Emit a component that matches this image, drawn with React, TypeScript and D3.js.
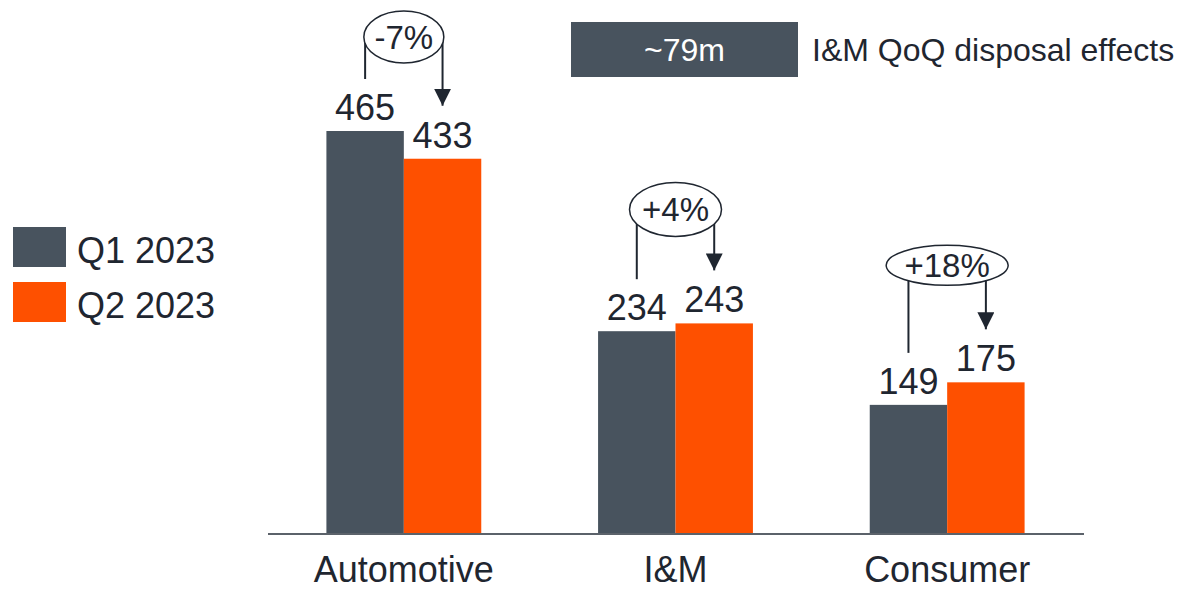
import React from "react";
import * as d3 from "d3";

const categories = ["Automotive", "I&M", "Consumer"];
const seriesNames = ["Q1 2023", "Q2 2023"];
const q1Values = [465, 234, 149];
const q2Values = [433, 243, 175];
const changeLabels = ["-7%", "+4%", "+18%"];
const noteValue = "~79m";
const noteText = "I&M QoQ disposal effects";

// annotation geometry (styling)
const ellipseLift = [94, 114, 117];
const ellipseRx = [40, 46, 61];
const ellipseRy = [26, 27, 20];

const W = 1178;
const H = 589;
const SLATE = "#48535e";
const ORANGE = "#fe5000";
const TEXT = "#1f2630";
const FONT = "'Liberation Sans', Arial, sans-serif";

export default function App() {
  const values = [q1Values, q2Values];
  const x0 = d3.scaleBand<string>().domain(categories).range([268, 1083]).paddingInner(0.43).paddingOuter(0.215);
  const x1 = d3.scaleBand<string>().domain(seriesNames).range([0, x0.bandwidth()]).padding(0);
  const y = d3.scaleLinear().domain([0, 465]).range([534, 131]);
  const colors = [SLATE, ORANGE];

  return (
    <svg width={W} height={H} style={{ position: "absolute", left: 0, top: 0, background: "#fff" }} fontFamily={FONT}>
      <defs>
        <marker id="arr" viewBox="0 0 10 10" refX="10" refY="5" markerWidth="8.5" markerHeight="8.5" orient="auto" markerUnits="strokeWidth">
          <path d="M0,0 L10,5 L0,10 z" fill={TEXT} />
        </marker>
      </defs>
      {/* bars */}
      {categories.map((c, i) => (
        <g key={c} transform={`translate(${x0(c)},0)`}>
          {seriesNames.map((s, j) => (
            <rect key={s} x={x1(s)} y={y(values[j][i])} width={x1.bandwidth()} height={y(0) - y(values[j][i])} fill={colors[j]} />
          ))}
          {seriesNames.map((s, j) => (
            <text key={s + "l"} x={(x1(s) as number) + x1.bandwidth() / 2} y={y(values[j][i]) - 11} textAnchor="middle" fontSize={36} fill={TEXT}>
              {values[j][i]}
            </text>
          ))}
        </g>
      ))}
      {/* axis */}
      <line x1={268} x2={1084} y1={y(0)} y2={y(0)} stroke="#5b626a" strokeWidth={2} />
      {categories.map((c) => (
        <text key={c} x={(x0(c) as number) + x0.bandwidth() / 2} y={582} textAnchor="middle" fontSize={36} fill={TEXT}>
          {c}
        </text>
      ))}
      {/* change annotations */}
      {categories.map((c, i) => {
        const gx = (x0(c) as number) + x0.bandwidth() / 2;
        const q1x = (x0(c) as number) + (x1(seriesNames[0]) as number) + x1.bandwidth() / 2;
        const q2x = (x0(c) as number) + (x1(seriesNames[1]) as number) + x1.bandwidth() / 2;
        const top = Math.min(y(q1Values[i]), y(q2Values[i]));
        const cy = top - ellipseLift[i];
        return (
          <g key={c + "a"}>
            <line x1={q1x} x2={q1x} y1={cy} y2={y(q1Values[i]) - 52} stroke={TEXT} strokeWidth={2} />
            <line x1={q2x} x2={q2x} y1={cy} y2={y(q2Values[i]) - 53} stroke={TEXT} strokeWidth={2} markerEnd="url(#arr)" />
            <ellipse cx={gx} cy={cy} rx={ellipseRx[i]} ry={ellipseRy[i]} fill="#fff" stroke={TEXT} strokeWidth={1.5} />
            <text x={gx} y={cy + 12} textAnchor="middle" fontSize={33} fill={TEXT}>
              {changeLabels[i]}
            </text>
          </g>
        );
      })}
      {/* legend */}
      {seriesNames.map((s, j) => (
        <g key={s} transform={`translate(13, ${227 + j * 55})`}>
          <rect width={53} height={40} fill={colors[j]} />
          <text x={64} y={36} fontSize={36} fill={TEXT}>{s}</text>
        </g>
      ))}
      {/* note */}
      <rect x={571} y={22} width={227} height={55} fill={SLATE} />
      <text x={684.5} y={61} textAnchor="middle" fontSize={32} fill="#fff">{noteValue}</text>
      <text x={812} y={61} fontSize={32} fill={TEXT}>{noteText}</text>
    </svg>
  );
}
